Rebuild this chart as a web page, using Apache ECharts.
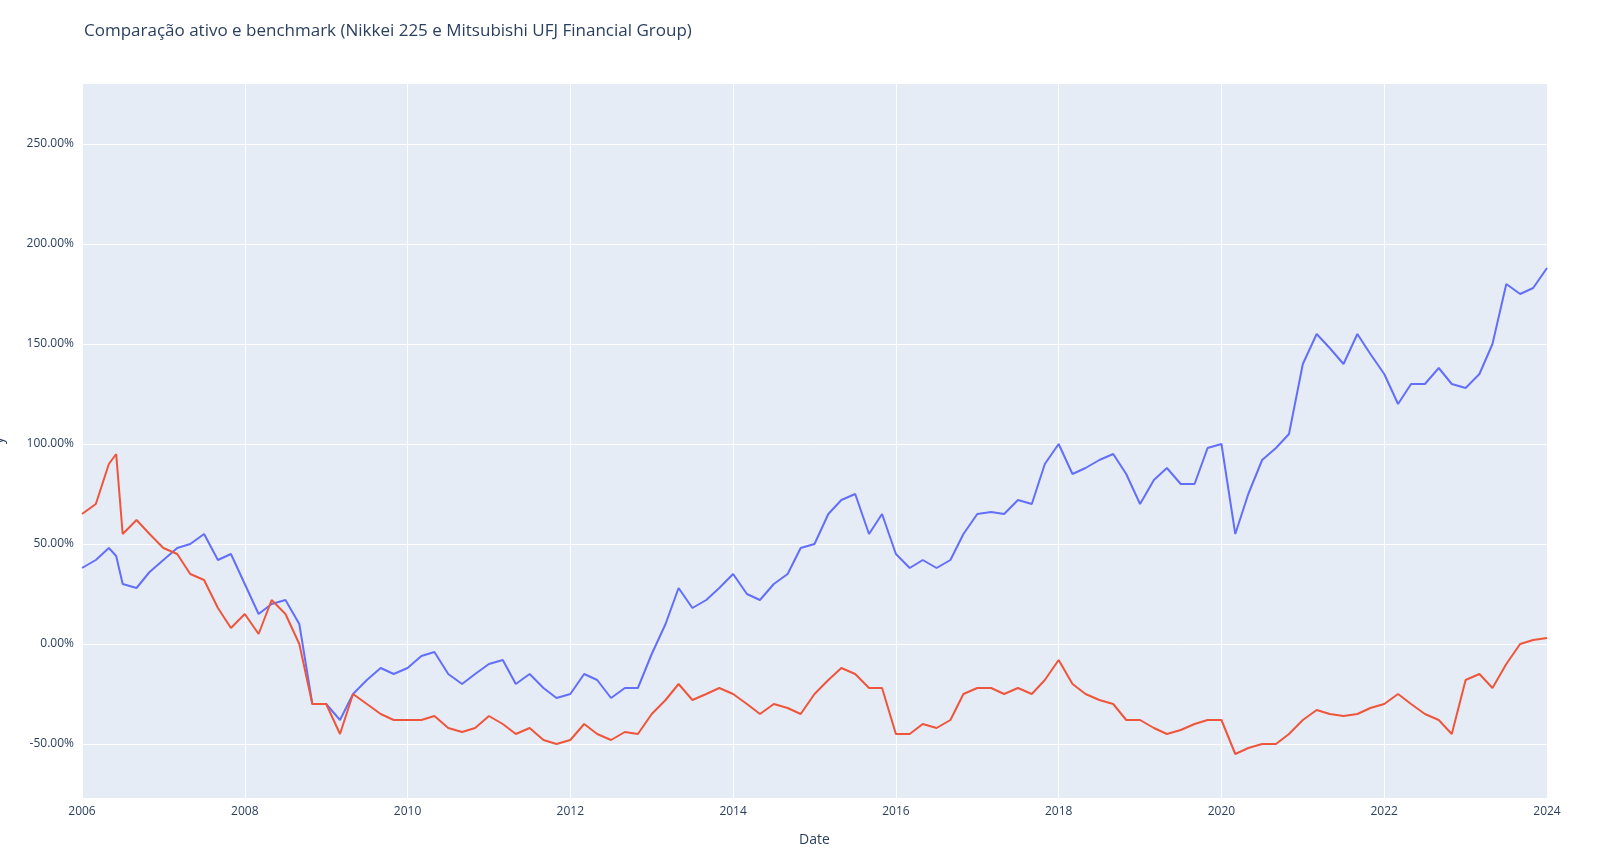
<!DOCTYPE html>
<html lang="pt-BR">
<head>
  <meta charset="UTF-8">
  <title>Comparação ativo e benchmark</title>
  <style>html, body { margin: 0; padding: 0; background: #fff; }</style>
</head>
<body>
  <div id="chart" style="width: 1598px; height: 862px;"></div>
  <script src="https://cdn.jsdelivr.net/npm/echarts@6/dist/echarts.min.js"></script>
  <script>
    // x positions in decimal years (roughly every 2 months)
    const dates = [
      2006.0, 2006.17, 2006.33, 2006.42, 2006.5, 2006.67, 2006.83,
      2007.0, 2007.17, 2007.33, 2007.5, 2007.67, 2007.83,
      2008.0, 2008.17, 2008.33, 2008.5, 2008.67, 2008.83,
      2009.0, 2009.17, 2009.33, 2009.5, 2009.67, 2009.83,
      2010.0, 2010.17, 2010.33, 2010.5, 2010.67, 2010.83,
      2011.0, 2011.17, 2011.33, 2011.5, 2011.67, 2011.83,
      2012.0, 2012.17, 2012.33, 2012.5, 2012.67, 2012.83,
      2013.0, 2013.17, 2013.33, 2013.5, 2013.67, 2013.83,
      2014.0, 2014.17, 2014.33, 2014.5, 2014.67, 2014.83,
      2015.0, 2015.17, 2015.33, 2015.5, 2015.67, 2015.83,
      2016.0, 2016.17, 2016.33, 2016.5, 2016.67, 2016.83,
      2017.0, 2017.17, 2017.33, 2017.5, 2017.67, 2017.83,
      2018.0, 2018.17, 2018.33, 2018.5, 2018.67, 2018.83,
      2019.0, 2019.17, 2019.33, 2019.5, 2019.67, 2019.83,
      2020.0, 2020.17, 2020.33, 2020.5, 2020.67, 2020.83,
      2021.0, 2021.17, 2021.33, 2021.5, 2021.67, 2021.83,
      2022.0, 2022.17, 2022.33, 2022.5, 2022.67, 2022.83,
      2023.0, 2023.17, 2023.33, 2023.5, 2023.67, 2023.83,
      2024.0
    ];
    // Nikkei 225, cumulative return in %
    const nikkei = [
      38, 42, 48, 44, 30, 28, 36,
      42, 48, 50, 55, 42, 45,
      30, 15, 20, 22, 10, -30,
      -30, -38, -25, -18, -12, -15,
      -12, -6, -4, -15, -20, -15,
      -10, -8, -20, -15, -22, -27,
      -25, -15, -18, -27, -22, -22,
      -5, 10, 28, 18, 22, 28,
      35, 25, 22, 30, 35, 48,
      50, 65, 72, 75, 55, 65,
      45, 38, 42, 38, 42, 55,
      65, 66, 65, 72, 70, 90,
      100, 85, 88, 92, 95, 85,
      70, 82, 88, 80, 80, 98,
      100, 55, 75, 92, 98, 105,
      140, 155, 148, 140, 155, 145,
      135, 120, 130, 130, 138, 130,
      128, 135, 150, 180, 175, 178,
      188
    ];
    // Mitsubishi UFJ Financial Group, cumulative return in %
    const mufg = [
      65, 70, 90, 95, 55, 62, 55,
      48, 45, 35, 32, 18, 8,
      15, 5, 22, 15, 0, -30,
      -30, -45, -25, -30, -35, -38,
      -38, -38, -36, -42, -44, -42,
      -36, -40, -45, -42, -48, -50,
      -48, -40, -45, -48, -44, -45,
      -35, -28, -20, -28, -25, -22,
      -25, -30, -35, -30, -32, -35,
      -25, -18, -12, -15, -22, -22,
      -45, -45, -40, -42, -38, -25,
      -22, -22, -25, -22, -25, -18,
      -8, -20, -25, -28, -30, -38,
      -38, -42, -45, -43, -40, -38,
      -38, -55, -52, -50, -50, -45,
      -38, -33, -35, -36, -35, -32,
      -30, -25, -30, -35, -38, -45,
      -18, -15, -22, -10, 0, 2,
      3
    ];

    const chart = echarts.init(document.getElementById('chart'));
    const pair = (ys) => dates.map((d, i) => [d, ys[i]]);
    chart.setOption({
      animation: false,
      backgroundColor: '#fff',
      title: {
        text: 'Comparação ativo e benchmark (Nikkei 225 e Mitsubishi UFJ Financial Group)',
        left: 79, top: 18,
        textStyle: { fontFamily: 'Open Sans', fontWeight: 'normal', fontSize: 17, color: '#2a3f5f' }
      },
      grid: { left: 82, right: 51, top: 83, bottom: 64, outerBoundsMode: 'none', containLabel: false,
        show: true, backgroundColor: '#E5ECF6', borderWidth: 0 },
      xAxis: {
        type: 'value', min: 2006, max: 2024, interval: 2,
        name: 'Date', nameLocation: 'middle', nameGap: 35,
        nameTextStyle: { fontFamily: 'Open Sans', fontSize: 14, color: '#2a3f5f' },
        axisLine: { show: false }, axisTick: { show: false },
        axisLabel: { fontFamily: 'Open Sans', fontSize: 12, color: '#2a3f5f', formatter: v => String(v) },
        splitLine: { lineStyle: { color: '#fff', width: 1 } }
      },
      yAxis: {
        type: 'value', min: -77, max: 280.5, splitNumber: 7,
        name: 'y', nameLocation: 'middle', nameGap: 76, nameRotate: 90,
        nameTextStyle: { fontFamily: 'Open Sans', fontSize: 14, color: '#2a3f5f' },
        axisLine: { show: false }, axisTick: { show: false },
        axisLabel: { showMinLabel: false, showMaxLabel: false, fontFamily: 'Open Sans', fontSize: 12, color: '#2a3f5f',
          formatter: v => v.toFixed(2) + '%' },
        splitLine: { lineStyle: { color: '#fff', width: 1 } }
      },
      series: [
        { name: 'Nikkei 225', type: 'line', data: pair(nikkei), showSymbol: false,
          lineStyle: { color: '#636efa', width: 2 }, itemStyle: { color: '#636efa' } },
        { name: 'Mitsubishi UFJ Financial Group', type: 'line', data: pair(mufg), showSymbol: false,
          lineStyle: { color: '#EF553B', width: 2 }, itemStyle: { color: '#EF553B' } }
      ]
    });
  </script>
</body>
</html>
